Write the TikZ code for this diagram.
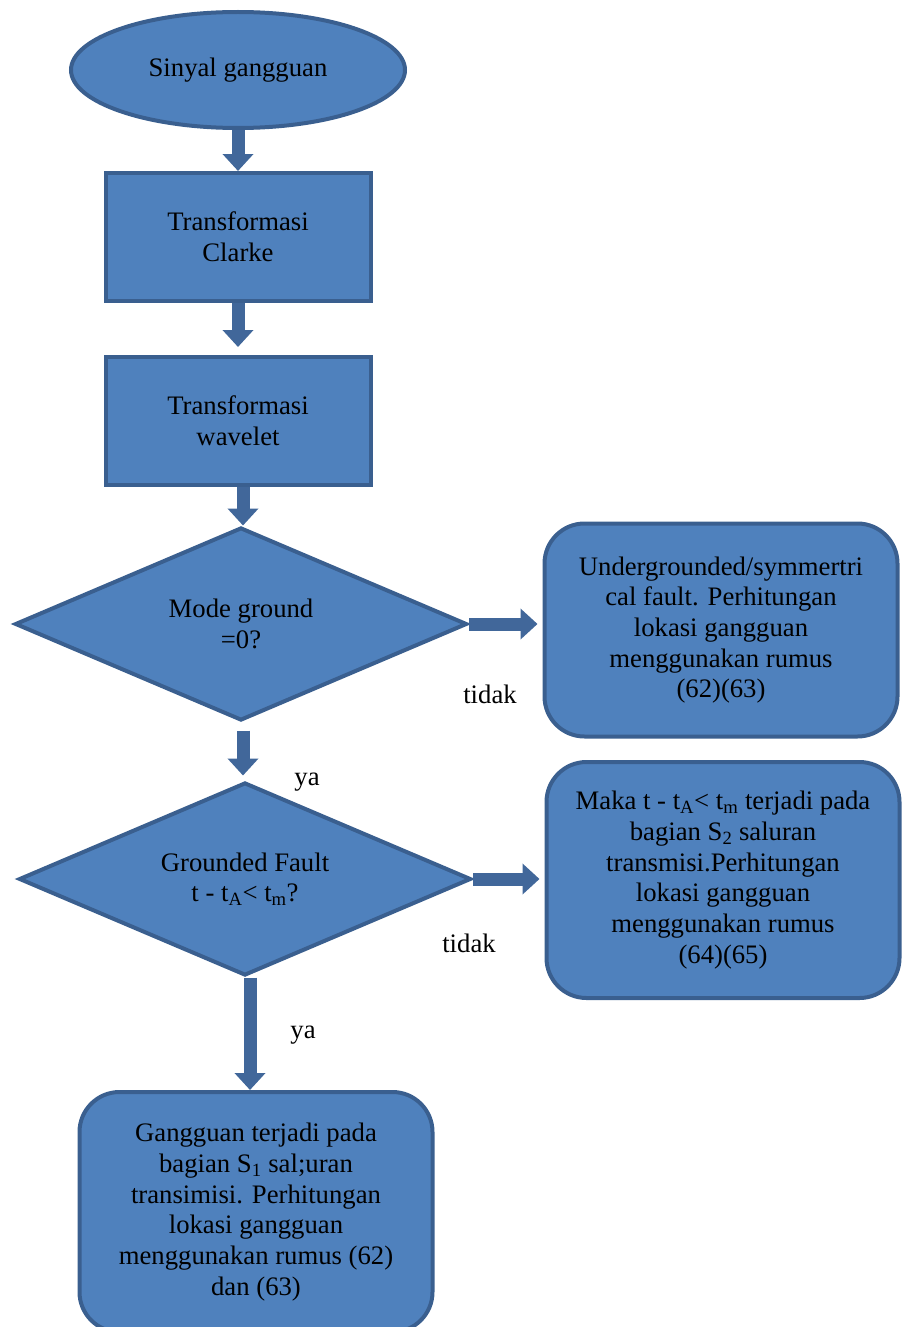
\documentclass[tikz,border=0pt]{standalone}
\usepackage{fontspec}
\setmainfont{Liberation Serif}
\usetikzlibrary{shapes.geometric,arrows.meta}
\definecolor{boxfill}{HTML}{4F81BD}
\definecolor{boxline}{HTML}{3A5F8F}
\definecolor{arrowcol}{HTML}{41679A}
\begin{document}
\begin{tikzpicture}[x=1pt,y=-1pt,
		font=\fontsize{26.7}{30.7}\selectfont,
		shapebase/.style={draw=boxline,line width=4pt,fill=boxfill,inner sep=0pt,align=center},
		terminal/.style={shapebase,ellipse,minimum width=334pt,minimum height=116pt},
		process/.style={shapebase,rectangle,minimum width=265pt,minimum height=128pt},
		decision/.style={shapebase,diamond,aspect=2.3,minimum width=452pt,minimum height=193pt},
		result/.style={shapebase,rectangle,rounded corners=40pt,minimum width=353pt},
		flowarrow/.style={draw=arrowcol,line width=13pt,-{Triangle[width=30pt,length=17pt]}},
		answer/.style={inner sep=0pt}]
		\useasboundingbox (0,0) rectangle (907,1327);
		\node[terminal] (sig) at (238,70) {Sinyal gangguan};
		\node[process] (clarke) at (238,237) {Transformasi\\Clarke};
		\node[process] (wav) at (238,421) {Transformasi\\wavelet};
		\node[decision] (mode) at (241,624) {Mode ground\\=0?};
		\node[decision] (gf) at (245,879) {Grounded Fault\\t - t\textsubscript{A}< t\textsubscript{m}?};
		\node[result,minimum height=213pt] (sym) at (721,630) {Undergrounded/symmertri\\cal fault. Perhitungan\\lokasi gangguan\\menggunakan rumus\\(62)(63)};
		\node[result,minimum height=236pt] (s2) at (723,880) {Maka t - t\textsubscript{A}< t\textsubscript{m} terjadi pada\\bagian S\textsubscript{2} saluran\\transmisi.Perhitungan\\lokasi gangguan\\menggunakan rumus\\(64)(65)};
		\node[result,minimum height=240pt] (s1) at (256,1212) {Gangguan terjadi pada\\bagian S\textsubscript{1} sal;uran\\transimisi. Perhitungan\\lokasi gangguan\\menggunakan rumus (62)\\dan (63)};
		\draw[flowarrow] (sig) -- (clarke);
		\draw[flowarrow,shorten >=8pt] (clarke) -- (wav);
		\draw[flowarrow] ([xshift=5pt]wav.south) -- ([xshift=5pt]wav.south |- mode.north);
		\draw[flowarrow,shorten <=8pt,shorten >=5pt] ([xshift=2pt]mode.south) -- ([xshift=2pt]mode.south |- gf.north);
		\draw[flowarrow] ([xshift=5pt]gf.south) -- ([xshift=5pt]gf.south |- s1.north);
		\draw[flowarrow,shorten >=5pt] (mode.east) -- (mode.east -| sym.west);
		\draw[flowarrow,shorten >=5pt] (gf.east) -- (gf.east -| s2.west);
		\node[answer] (no1) at (490,694) {tidak};
		\node[answer] (yes1) at (307,782) {ya};
		\node[answer] (no2) at (469,943) {tidak};
		\node[answer] (yes2) at (303,1035) {ya};
	\end{tikzpicture}
\end{document}
